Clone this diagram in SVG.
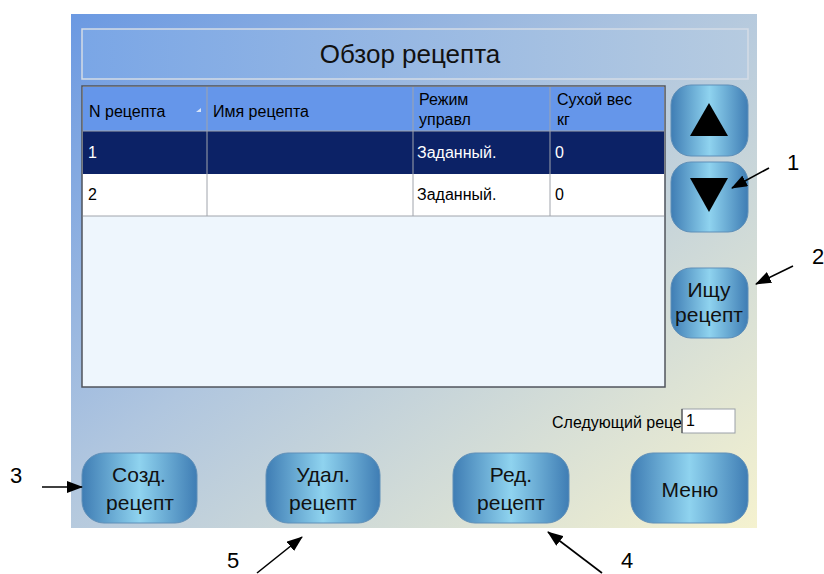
<svg xmlns="http://www.w3.org/2000/svg" width="824" height="574" viewBox="0 0 824 574">
<defs>
<linearGradient id="bg" x1="0" y1="0" x2="1" y2="1">
<stop offset="0" stop-color="#6b99e2"/>
<stop offset="0.45" stop-color="#b0c6df"/>
<stop offset="1" stop-color="#f5f2cf"/>
</linearGradient>
<linearGradient id="title" x1="0" y1="0" x2="1" y2="0">
<stop offset="0" stop-color="#7aa6e6"/>
<stop offset="1" stop-color="#b6cbe0"/>
</linearGradient>
<linearGradient id="btn" x1="0" y1="0" x2="1" y2="0">
<stop offset="0" stop-color="#3f7db4"/>
<stop offset="0.5" stop-color="#8fd3ef"/>
<stop offset="1" stop-color="#3f7db4"/>
</linearGradient>
<marker id="ahl" markerWidth="16" markerHeight="12" refX="15" refY="6" orient="auto" markerUnits="userSpaceOnUse">
<path d="M0,0 L16,6 L0,12 Z" fill="#000"/>
</marker>
</defs>
<style>
text{font-family:"Liberation Sans",Arial,sans-serif}
.btn{fill:url(#btn);stroke:#5f8fb8;stroke-width:1}
.bt{font-size:21px;fill:#111;text-anchor:middle}
.hd{font-size:16px;fill:#000}
.c1{font-size:16px;fill:#fff}
.c2{font-size:16px;fill:#000}
.grid{stroke:#a0a4ac;stroke-width:1}
.num{font-size:22px;fill:#000;text-anchor:middle}
.lead{stroke:#000;stroke-width:1.6;fill:none}
</style>
<rect width="824" height="574" fill="#fff"/>
<g id="screen">
<rect x="71" y="14" width="686" height="514" fill="url(#bg)"/>
</g>
<g id="title-box">
<rect x="82" y="29" width="666" height="50" fill="url(#title)" stroke="#d4dce6" stroke-width="1.5"/>
<text x="410" y="63" font-size="26" text-anchor="middle" fill="#111">Обзор рецепта</text>
</g>
<g id="table">
<rect x="82" y="86" width="583" height="301" fill="#eef6fd" stroke="#50545c" stroke-width="1.5"/>
<rect x="83" y="87" width="581" height="44" fill="#6596ea"/>
<rect x="83" y="131" width="581" height="43" fill="#0c2266"/>
<rect x="83" y="174" width="581" height="42" fill="#fff"/>
<line class="grid" x1="83" y1="131" x2="664" y2="131"/>
<line class="grid" x1="83" y1="216" x2="664" y2="216"/>
<line class="grid" x1="207" y1="87" x2="207" y2="216"/>
<line class="grid" x1="413" y1="87" x2="413" y2="216"/>
<line class="grid" x1="550" y1="87" x2="550" y2="216"/>
<text class="hd" x="89" y="117">N рецепта</text>
<path d="M196,112 L201,112 L201,108 Z" fill="#d8e4f8"/>
<text class="hd" x="213" y="117">Имя рецепта</text>
<text class="hd" x="419" y="105">Режим</text>
<text class="hd" x="419" y="125">управл</text>
<text class="hd" x="557" y="105">Сухой вес</text>
<text class="hd" x="557" y="125">кг</text>
<text class="c1" x="88" y="158">1</text>
<text class="c1" x="417" y="158">Заданный.</text>
<text class="c1" x="555" y="158">0</text>
<text class="c2" x="88" y="200">2</text>
<text class="c2" x="417" y="200">Заданный.</text>
<text class="c2" x="555" y="200">0</text>
</g>
<g id="btn-up">
<rect class="btn" x="671" y="85" width="77" height="71" rx="20"/>
<path d="M690,136 L728,136 L709,103 Z" fill="#000"/>
</g>
<g id="btn-down">
<rect class="btn" x="671" y="162" width="77" height="70" rx="20"/>
<path d="M690,178 L728,178 L709,212 Z" fill="#000"/>
</g>
<g id="btn-search">
<rect class="btn" x="671" y="268" width="77" height="70" rx="20"/>
<text class="bt" x="709" y="297" font-size="20">Ищу</text>
<text class="bt" x="709" y="322" font-size="20">рецепт</text>
</g>
<g id="next-recipe">
<text x="682" y="428" font-size="16" text-anchor="end" fill="#000">Следующий реце</text>
<rect x="682" y="409" width="53" height="24" fill="#fff" stroke="#9aa0a8" stroke-width="1"/>
<line x1="682" y1="409" x2="682" y2="433" stroke="#333" stroke-width="1"/>
<text x="686" y="426" font-size="16" fill="#000">1</text>
</g>
<g id="btn-create">
<rect class="btn" x="82" y="453" width="115" height="70" rx="22"/>
<text class="bt" x="139" y="482">Созд.</text>
<text class="bt" x="140" y="510">рецепт</text>
</g>
<g id="btn-delete">
<rect class="btn" x="266" y="453" width="114" height="70" rx="22"/>
<text class="bt" x="323" y="482">Удал.</text>
<text class="bt" x="323" y="510">рецепт</text>
</g>
<g id="btn-edit">
<rect class="btn" x="453" y="453" width="116" height="70" rx="22"/>
<text class="bt" x="511" y="482">Ред.</text>
<text class="bt" x="511" y="510">рецепт</text>
</g>
<g id="btn-menu">
<rect class="btn" x="631" y="453" width="117" height="70" rx="22"/>
<text class="bt" x="690" y="497" font-size="23">Меню</text>
</g>
<g id="callouts">
<text class="num" x="793" y="170">1</text>
<text class="num" x="818" y="264">2</text>
<text class="num" x="16" y="483">3</text>
<text class="num" x="627" y="568">4</text>
<text class="num" x="233" y="568">5</text>
</g>
<g id="connectors">
<line class="lead" x1="769" y1="168" x2="732" y2="188" marker-end="url(#ahl)"/>
<line class="lead" x1="793" y1="266" x2="756" y2="284" marker-end="url(#ahl)"/>
<line class="lead" x1="42" y1="487" x2="82" y2="487" marker-end="url(#ahl)"/>
<line class="lead" x1="602" y1="573" x2="548" y2="532" marker-end="url(#ahl)"/>
<line class="lead" x1="257" y1="573" x2="302" y2="537" marker-end="url(#ahl)"/>
</g>
</svg>
